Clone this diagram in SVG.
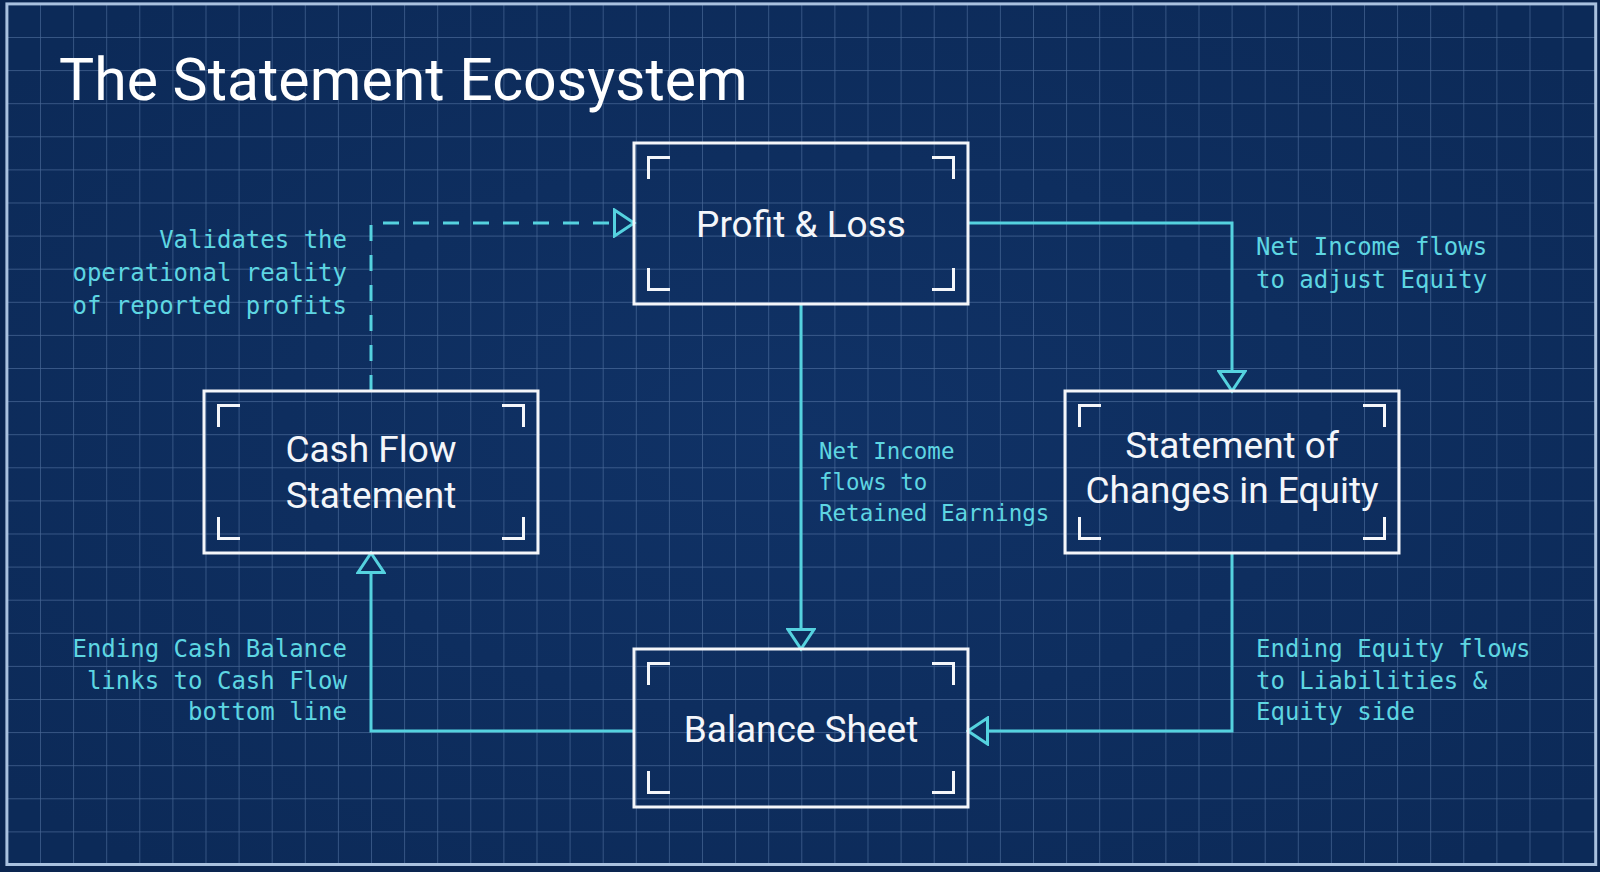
<svg xmlns="http://www.w3.org/2000/svg" width="1600" height="872" viewBox="0 0 1600 872">
  <defs>
    <pattern id="grid" x="6.9" y="3.9" width="33.1" height="33.1" patternUnits="userSpaceOnUse">
      <path d="M 33.1 0 L 0 0 L 0 33.1" fill="none" stroke="#7594c0" stroke-opacity="0.55" stroke-width="1.4"/>
    </pattern>
    <radialGradient id="bgglow" cx="50%" cy="50%" r="65%">
      <stop offset="0" stop-color="#103266"/>
      <stop offset="1" stop-color="#0c2a58"/>
    </radialGradient>
    <marker id="arrow" viewBox="0 0 24 30" refX="21.5" refY="15" markerWidth="24" markerHeight="30" markerUnits="userSpaceOnUse" orient="auto">
      <path d="M 2 2 L 21.5 15 L 2 28 Z" fill="#0e2d5d" stroke="#55d2df" stroke-width="3" stroke-linejoin="miter"/>
    </marker>
    <style>
      .box { fill: none; stroke: #f4f6fa; stroke-width: 3; }
      .brk { fill: none; stroke: #f4f6fa; stroke-width: 3; }
      .ntxt { font-family: Roboto, "Liberation Sans", sans-serif; font-size: 37px; fill: #f4f6fa; text-anchor: middle; }
      .title { font-family: Roboto, "Liberation Sans", sans-serif; font-size: 59px; fill: #ffffff; }
      .lbl { font-family: "DejaVu Sans Mono", "Liberation Mono", monospace; font-size: 24px; fill: #5ed6e2; }
      .sm { font-size: 22.5px; }
      .end { text-anchor: end; }
      .conn { fill: none; stroke: #55d2df; stroke-width: 3; }
      .dash { stroke-dasharray: 16 14; }
    </style>
  </defs>

  <rect x="0" y="0" width="1600" height="872" fill="#0a2550"/>
  <rect x="6.9" y="3.9" width="1588.8" height="860.6" fill="url(#bgglow)"/>
  <rect x="6.9" y="3.9" width="1588.8" height="860.6" fill="url(#grid)"/>
  <rect x="6.9" y="3.9" width="1588.8" height="860.6" fill="none" stroke="#a9c1df" stroke-width="3"/>

  <text class="title" x="59" y="100">The Statement Ecosystem</text>

  <g id="connectors">
    <path class="conn" d="M 968 223 H 1232 V 391" marker-end="url(#arrow)"/>
    <path class="conn" d="M 801 304 V 649" marker-end="url(#arrow)"/>
    <path class="conn" d="M 1232 553 V 731 H 968" marker-end="url(#arrow)"/>
    <path class="conn" d="M 634 731 H 371 V 553" marker-end="url(#arrow)"/>
    <path class="conn dash" d="M 371 391 V 223 H 634" marker-end="url(#arrow)"/>

    <text class="lbl end" x="347" y="248">Validates the</text>
    <text class="lbl end" x="347" y="281">operational reality</text>
    <text class="lbl end" x="347" y="314">of reported profits</text>

    <text class="lbl" x="1256" y="255">Net Income flows</text>
    <text class="lbl" x="1256" y="288">to adjust Equity</text>

    <text class="lbl sm" x="819" y="459">Net Income</text>
    <text class="lbl sm" x="819" y="490">flows to</text>
    <text class="lbl sm" x="819" y="521">Retained Earnings</text>

    <text class="lbl end" x="347" y="657">Ending Cash Balance</text>
    <text class="lbl end" x="347" y="689">links to Cash Flow</text>
    <text class="lbl end" x="347" y="720">bottom line</text>

    <text class="lbl" x="1256" y="657">Ending Equity flows</text>
    <text class="lbl" x="1256" y="689">to Liabilities &amp;</text>
    <text class="lbl" x="1256" y="720">Equity side</text>
  </g>

  <g id="node-pl">
    <rect class="box" x="634" y="143" width="334" height="161"/>
    <path class="brk" d="M 648.5 179 V 157.5 H 670 M 932 157.5 H 953.5 V 179 M 648.5 268 V 289.5 H 670 M 932 289.5 H 953.5 V 268"/>
    <text class="ntxt" x="801" y="237">Profit &amp; Loss</text>
  </g>

  <g id="node-cf">
    <rect class="box" x="204" y="391" width="334" height="162"/>
    <path class="brk" d="M 218.5 427 V 405.5 H 240 M 502 405.5 H 523.5 V 427 M 218.5 517 V 538.5 H 240 M 502 538.5 H 523.5 V 517"/>
    <text class="ntxt" x="371" y="462">Cash Flow</text>
    <text class="ntxt" x="371" y="508">Statement</text>
  </g>

  <g id="node-sce">
    <rect class="box" x="1065" y="391" width="334" height="162"/>
    <path class="brk" d="M 1079.5 427 V 405.5 H 1101 M 1363 405.5 H 1384.5 V 427 M 1079.5 517 V 538.5 H 1101 M 1363 538.5 H 1384.5 V 517"/>
    <text class="ntxt" x="1232" y="458">Statement of</text>
    <text class="ntxt" x="1232" y="503">Changes in Equity</text>
  </g>

  <g id="node-bs">
    <rect class="box" x="634" y="649" width="334" height="158"/>
    <path class="brk" d="M 648.5 685 V 663.5 H 670 M 932 663.5 H 953.5 V 685 M 648.5 771 V 792.5 H 670 M 932 792.5 H 953.5 V 771"/>
    <text class="ntxt" x="801" y="742">Balance Sheet</text>
  </g>
</svg>
